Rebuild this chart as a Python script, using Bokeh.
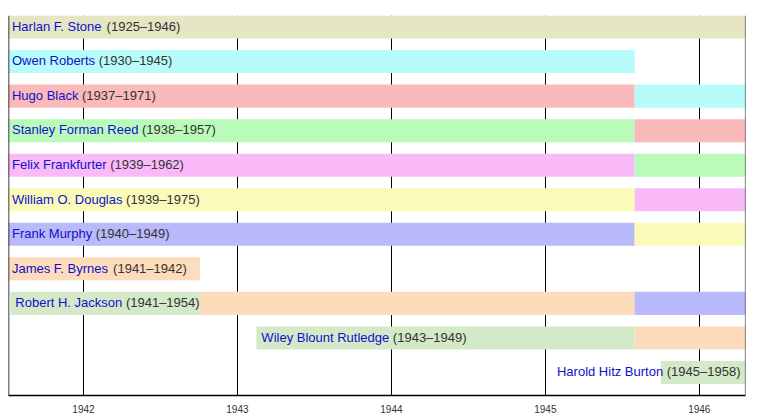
from bokeh.plotting import figure
from bokeh.models import ColumnDataSource, Range1d, FixedTicker, Span
from bokeh.core.properties import value
from bokeh.embed import file_html
from bokeh.resources import INLINE

# ---------------- data ----------------
names = ["Harlan F. Stone", "Owen Roberts", "Hugo Black", "Stanley Forman Reed",
         "Felix Frankfurter", "William O. Douglas", "Frank Murphy", "James F. Byrnes",
         "Robert H. Jackson", "Wiley Blount Rutledge", "Harold Hitz Burton"]
tenures = ["(1925–1946)", "(1930–1945)", "(1937–1971)", "(1938–1957)",
           "(1939–1962)", "(1939–1975)", "(1940–1949)", "(1941–1942)",
           "(1941–1954)", "(1943–1949)", "(1945–1958)"]
# first date of each justice on this court (decimal years)
label_start = [1941.503, 1941.503, 1941.503, 1941.503, 1941.503, 1941.503,
               1941.503, 1941.503, 1941.525, 1943.123, 1945.750]

court_start = 1941.513
court_end = 1946.300

# bar segments: row, start, end, seniority rank
seg_row = [0, 1, 2, 2, 3, 3, 4, 4, 5, 5, 6, 6, 7, 8, 8, 8, 9, 9, 10]
seg_start = [1941.503, 1941.503, 1941.503, 1945.580, 1941.503, 1945.580,
             1941.503, 1945.580, 1941.503, 1945.580, 1941.503, 1945.580,
             1941.503, 1941.525, 1942.756, 1945.580, 1943.123, 1945.580, 1945.750]
seg_end = [1946.306, 1945.580, 1945.580, 1946.306, 1945.580, 1946.306,
           1945.580, 1946.306, 1945.580, 1946.306, 1945.580, 1946.306,
           1942.756, 1942.756, 1945.580, 1946.306, 1945.580, 1946.306, 1946.306]
seg_rank = [1, 2, 3, 2, 4, 3, 5, 4, 6, 5, 7, 6, 8, 9, 8, 7, 9, 8, 9]
rank_colors = ["#E6E6C4", "#B7FBFA", "#FABABA", "#BAFBBA", "#FABAFA",
               "#FAFABA", "#BABAFA", "#FCDCBA", "#D4E9C8"]

tick_years = [1942, 1943, 1944, 1945, 1946]
tick_labels = ["1942", "1943", "1944", "1945", "1946"]

# ---------------- style ----------------
W, H = 775, 415
B_LEFT, B_RIGHT, B_TOP, B_BOTTOM = 8, 30, 15, 20
BAR_H = 0.667
FONT = "Liberation Sans"
NAME_PX = 13.0
DATE_PX = 13.0

ARIAL = {' ': 278, '(': 333, ')': 333, '–': 556, '.': 278, '-': 333,
         'A': 667, 'B': 667, 'C': 722, 'D': 722, 'E': 667, 'F': 611, 'G': 778,
         'H': 722, 'I': 278, 'J': 500, 'K': 667, 'L': 556, 'M': 833, 'N': 722,
         'O': 778, 'P': 667, 'Q': 778, 'R': 722, 'S': 667, 'T': 611, 'U': 722,
         'V': 667, 'W': 944, 'X': 667, 'Y': 667, 'Z': 611,
         'a': 556, 'b': 556, 'c': 500, 'd': 556, 'e': 556, 'f': 278, 'g': 556,
         'h': 556, 'i': 222, 'j': 222, 'k': 500, 'l': 222, 'm': 833, 'n': 556,
         'o': 556, 'p': 556, 'q': 556, 'r': 333, 's': 500, 't': 278, 'u': 556,
         'v': 500, 'w': 722, 'x': 500, 'y': 500, 'z': 500}


def tw(s, px):
    return sum(ARIAL.get(c, 556) for c in s) * px / 1000.0


frame_w = W - B_LEFT - B_RIGHT
px_per_year = frame_w / (court_end - court_start)

p = figure(width=W, height=H, output_backend="svg", toolbar_location=None,
           x_range=Range1d(court_start, court_end), y_range=Range1d(11, 0),
           y_axis_location=None, min_border_left=B_LEFT, min_border_right=B_RIGHT,
           min_border_top=B_TOP, min_border_bottom=B_BOTTOM)
p.outline_line_color = None
p.background_fill_color = "white"

# grid
p.ygrid.visible = False
p.xgrid.ticker = FixedTicker(ticks=tick_years)
p.xgrid.grid_line_color = "black"
p.xgrid.grid_line_width = 1

# bars
seg_src = ColumnDataSource(dict(
    left=seg_start, right=seg_end,
    top=[r for r in seg_row], bottom=[r + BAR_H for r in seg_row],
    color=[rank_colors[k - 1] for k in seg_rank]))
p.quad(left="left", right="right", top="top", bottom="bottom",
       fill_color="color", line_color=None, source=seg_src)

# labels
nx, nofs, nalign, dx, dofs, dalign, ly = [], [], [], [], [], [], []
for i, (nm, tn, st) in enumerate(zip(names, tenures, label_start)):
    wn = tw(nm, NAME_PX)
    ws = tw(" ", NAME_PX)
    wd = tw(tn, DATE_PX)
    bar_px = (court_end - max(st, court_start)) * px_per_year
    ly.append(i + BAR_H / 2 - 0.02)
    if wn + ws + wd + 10 <= bar_px:
        nx.append(st); nofs.append(5); nalign.append("left")
        dx.append(st); dofs.append(5 + wn + ws); dalign.append("left")
    else:
        nx.append(court_end); nofs.append(-5 - wd - ws); nalign.append("right")
        dx.append(court_end); dofs.append(-5); dalign.append("right")

lab_src = ColumnDataSource(dict(nx=nx, nofs=nofs, nalign=nalign, dx=dx, dofs=dofs,
                                dalign=dalign, y=ly, name=names, tenure=tenures))
p.text(x="nx", y="y", text="name", x_offset="nofs", text_align="nalign",
       text_baseline="middle", text_font=value(FONT), text_font_size=f"{NAME_PX}px",
       text_color="#1010CC", source=lab_src)
p.text(x="dx", y="y", text="tenure", x_offset="dofs", text_align="dalign",
       text_baseline="middle", text_font=value(FONT), text_font_size=f"{DATE_PX}px",
       text_color="#333333", source=lab_src)

# frame lines
p.add_layout(Span(location=court_start, dimension="height", line_color="black", line_width=1.5))
p.add_layout(Span(location=court_end, dimension="height", line_color="#333333", line_width=1.2))

# bottom axis
ax = p.xaxis[0]
ax.ticker = FixedTicker(ticks=tick_years)
ax.major_label_overrides = {y: l for y, l in zip(tick_years, tick_labels)}
ax.axis_line_color = "black"
ax.axis_line_width = 1.5
ax.major_tick_out = 0
ax.major_tick_in = 0
ax.minor_tick_out = 0
ax.minor_tick_in = 0
ax.major_label_standoff = 9
ax.major_label_text_font = FONT
ax.major_label_text_font_size = "10px"
ax.major_label_text_color = "#333333"

open("out.html", "w").write(file_html(p, INLINE))
